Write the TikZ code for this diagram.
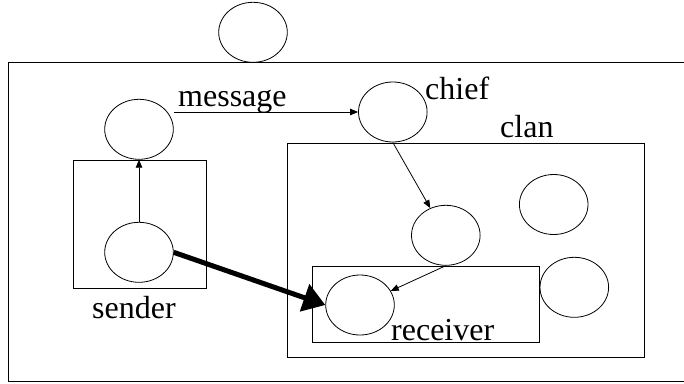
\documentclass[tikz,border=0pt]{standalone}
\usepackage{fontspec}
\setmainfont{Liberation Serif}
\usetikzlibrary{arrows.meta,shapes.geometric}

\begin{document}
\begin{tikzpicture}[x=1pt, y=-1pt,
    blob/.style={ellipse, draw, line width=0.8pt, minimum width=68.6pt, minimum height=60pt, inner sep=0pt},
    lbl/.style={anchor=base west, inner sep=0pt, font=\fontsize{32}{38}\selectfont},
    flow/.style={line width=0.8pt, -{Triangle[length=8pt,width=6.5pt]}}
]
\useasboundingbox (0,0) rectangle (684,383);
\draw[line width=0.8pt] (8,62) rectangle (700,381);
\draw[line width=0.8pt] (73.7,160.3) rectangle (206.3,288.3);
\draw[line width=0.8pt] (287.3,143.3) rectangle (644.7,357.3);
\draw[line width=0.8pt] (312.3,266.7) rectangle (539.3,342.3);
\node[blob] (top) at (253,32.3) {};
\node[blob] (msg) at (139,129.3) {};
\node[blob] (snd) at (139,252.3) {};
\node[blob] (chief) at (392.8,112) {};
\node[blob] (mid) at (445.8,235.3) {};
\node[blob] (rcv) at (360,305) {};
\node[blob] (nbA) at (553.7,204.5) {};
\node[blob] (nbB) at (574.3,287.3) {};
\node[lbl] (tmsg) at (178,106) {message};
\node[lbl] (tchief) at (425,99.3) {chief};
\node[lbl] (tclan) at (500,137) {clan};
\node[lbl] (tsnd) at (92,318) {sender};
\node[lbl] (trcv) at (391,340) {receiver};
\draw[flow] (snd) -- (msg);
\draw[flow] (msg.east |- chief.west) -- (chief.west);
\draw[flow] (chief.south) -- (mid);
\draw[flow] (mid.south) -- (rcv);
\draw[line width=5pt, -{Triangle[length=22pt,width=28pt]}] (snd.east) -- (rcv.west);
\end{tikzpicture}
\end{document}
